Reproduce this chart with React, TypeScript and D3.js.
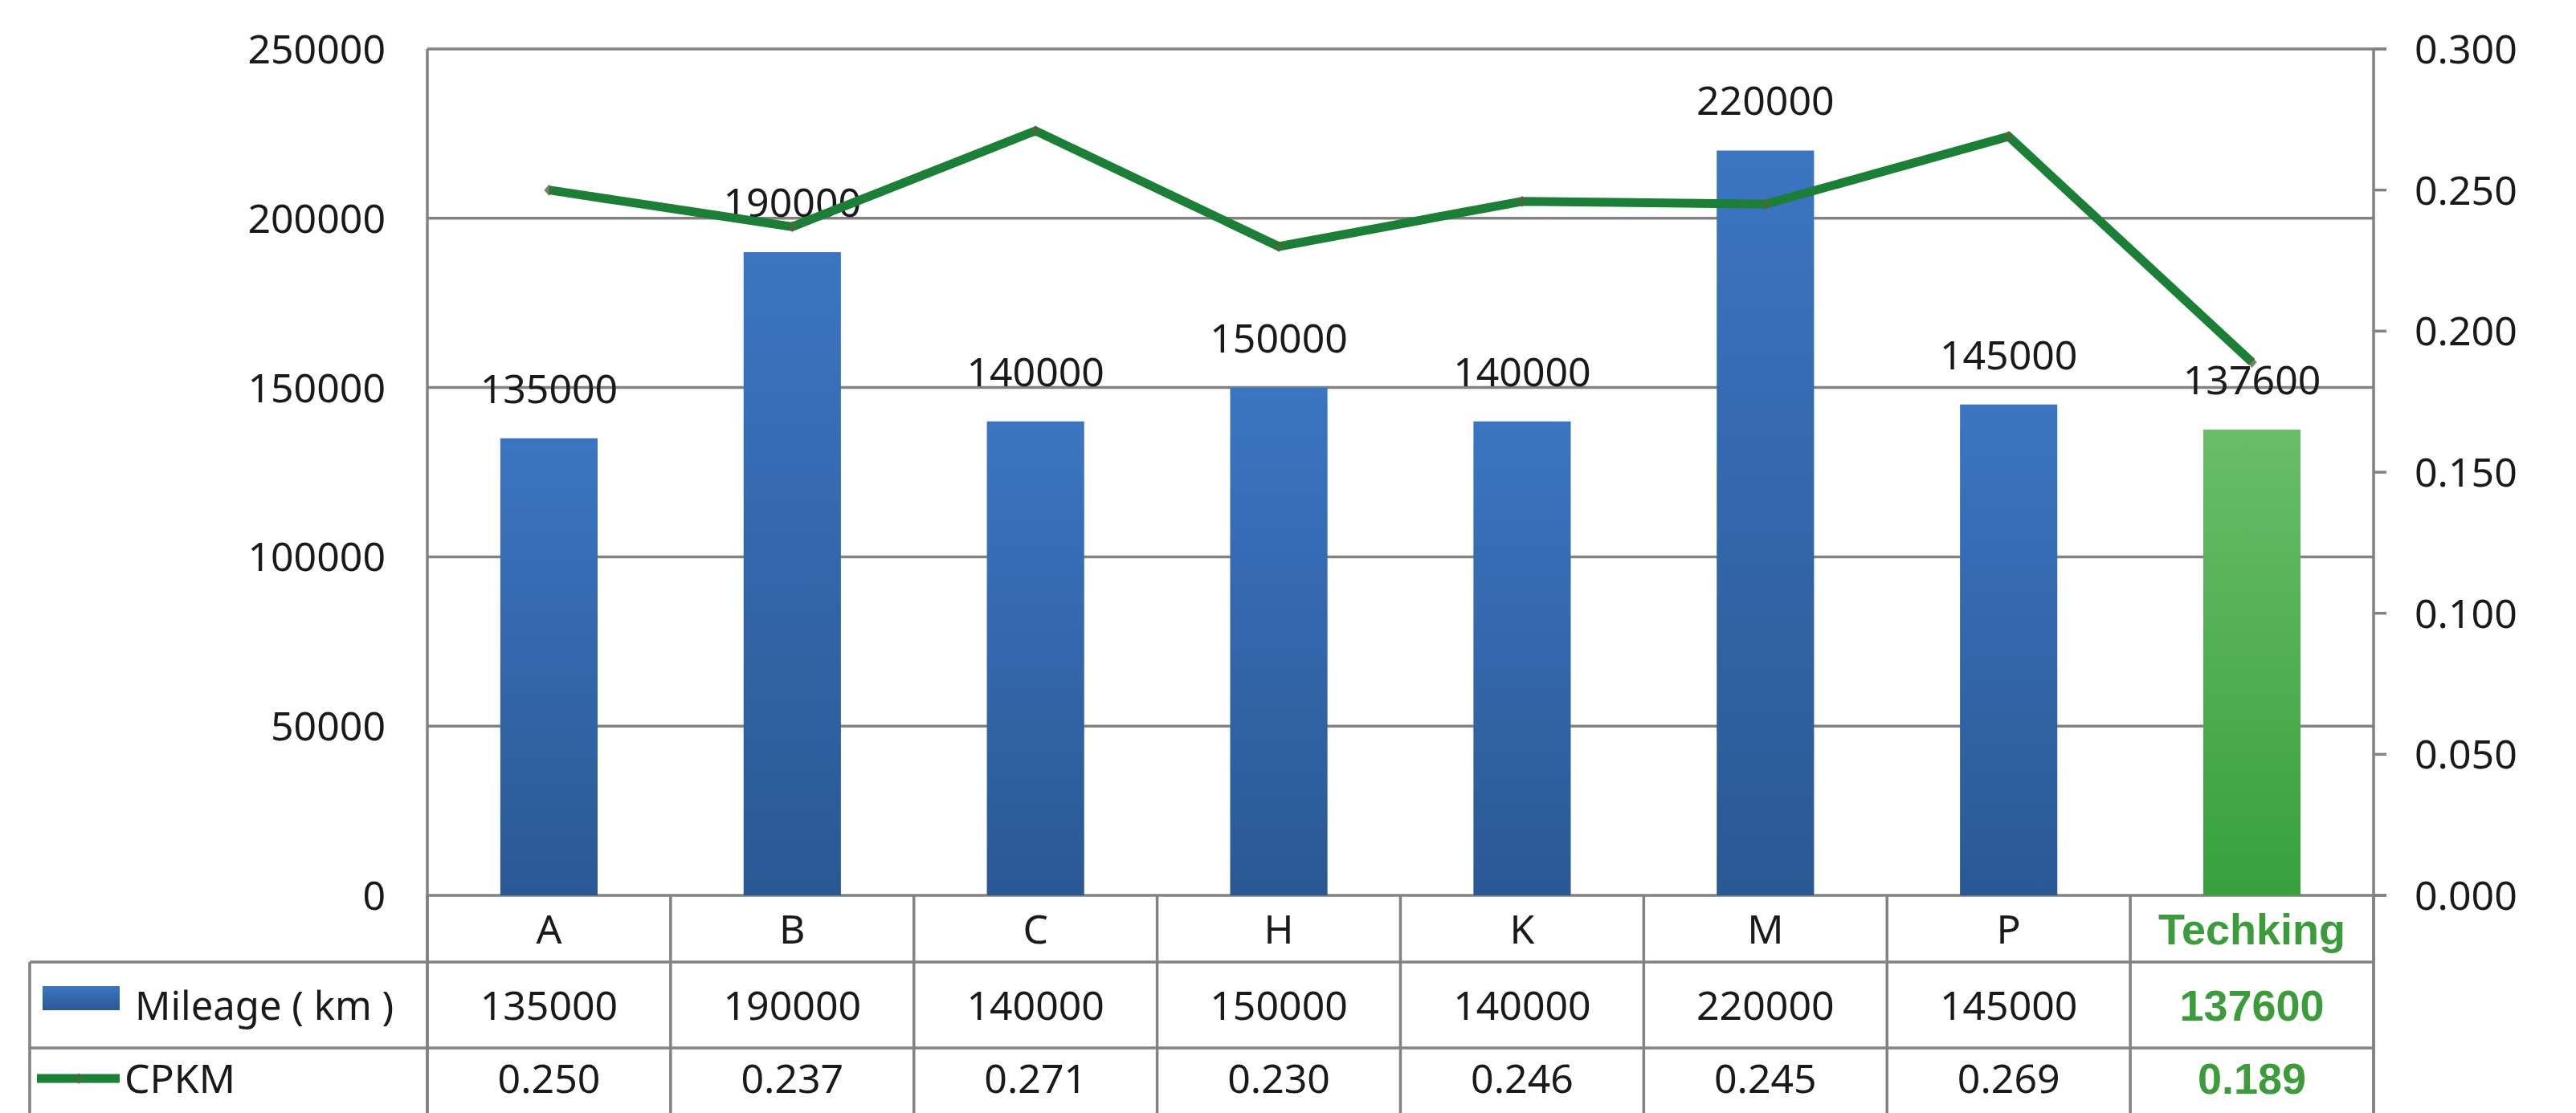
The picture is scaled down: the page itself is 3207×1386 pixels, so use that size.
import React, { useEffect } from "react";
import * as d3 from "d3";

const categories = ["A", "B", "C", "H", "K", "M", "P", "Techking"];
const mileage = [135000, 190000, 140000, 150000, 140000, 220000, 145000, 137600];
const cpkm = [0.25, 0.237, 0.271, 0.23, 0.246, 0.245, 0.269, 0.189];
const leftTicks = [0, 50000, 100000, 150000, 200000, 250000];
const rightTicks = [0, 0.05, 0.1, 0.15, 0.2, 0.25, 0.3];
const highlight = "Techking";

const W = 3207;
const H = 1386;
const plotL = 532;
const plotR = 2955;
const plotT = 61;
const plotB = 1115;
const row1B = 1198;
const row2B = 1305;
const legendL = 37;
const FONT = "'Noto Sans', 'Open Sans', sans-serif";
const BOLD = "'Liberation Sans', Arial, sans-serif";
const GRID = "#828282";
const LINE = "#1b7f37";
const GREENTXT = "#3c9c3c";

export default function App() {
  useEffect(() => {
    document.body.style.margin = "0";
  }, []);

  const x = d3.scaleBand<string>().domain(categories).range([plotL, plotR]).paddingInner(0.6).paddingOuter(0.3);
  const xc = d3.scaleBand<string>().domain(categories).range([plotL, plotR]).padding(0);
  const yL = d3.scaleLinear().domain([0, 250000]).range([plotB, plotT]);
  const yR = d3.scaleLinear().domain([0, 0.3]).range([plotB, plotT]);
  const fmtR = d3.format(".3f");
  const cx = (c: string) => (x(c) as number) + x.bandwidth() / 2;

  const line = d3
    .line<number>()
    .x((_, i) => cx(categories[i]))
    .y((d) => yR(d));

  const colEdges = categories.map((c) => xc(c) as number).concat([plotR]);

  return (
    <svg width={W} height={H} style={{ display: "block", background: "#fff" }}>
      <defs>
        <linearGradient id="blueG" x1="0" y1="0" x2="0" y2="1">
          <stop offset="0" stopColor="#3b75c2" />
          <stop offset="1" stopColor="#2b5893" />
        </linearGradient>
        <linearGradient id="greenG" x1="0" y1="0" x2="0" y2="1">
          <stop offset="0" stopColor="#6abd6a" />
          <stop offset="1" stopColor="#38a03c" />
        </linearGradient>
      </defs>

      {/* gridlines */}
      {leftTicks.map((t) => (
        <line
          key={"g" + t}
          x1={plotL}
          x2={t === 0 || t === 250000 ? plotR + 16 : plotR}
          y1={yL(t)}
          y2={yL(t)}
          stroke={GRID}
          strokeWidth={3.5}
        />
      ))}
      {/* right ticks */}
      {rightTicks.map((t) => (
        <line key={"rt" + t} x1={plotR} x2={plotR + 16} y1={yR(t)} y2={yR(t)} stroke={GRID} strokeWidth={3.5} />
      ))}
      {/* axes */}
      <line x1={plotL} x2={plotL} y1={plotT} y2={H} stroke={GRID} strokeWidth={3.5} />
      <line x1={plotR} x2={plotR} y1={plotT} y2={H} stroke={GRID} strokeWidth={3.5} />

      {/* left tick labels */}
      {leftTicks.map((t) => (
        <text key={"lt" + t} x={480} y={yL(t)} dy="0.36em" textAnchor="end" fontFamily={FONT} fontSize={50} fill="#1a1a1a">
          {t}
        </text>
      ))}
      {/* right tick labels */}
      {rightTicks.map((t) => (
        <text key={"rl" + t} x={3006} y={yR(t)} dy="0.36em" textAnchor="start" fontFamily={FONT} fontSize={50} fill="#1a1a1a">
          {fmtR(t)}
        </text>
      ))}

      {/* bars */}
      {categories.map((c, i) => (
        <rect
          key={"b" + c}
          x={x(c)}
          y={yL(mileage[i])}
          width={x.bandwidth()}
          height={plotB - yL(mileage[i])}
          fill={c === highlight ? "url(#greenG)" : "url(#blueG)"}
        />
      ))}

      {/* data labels */}
      {categories.map((c, i) => (
        <text
          key={"dl" + c}
          x={cx(c)}
          y={yL(mileage[i]) - 62}
          dy="0.36em"
          textAnchor="middle"
          fontFamily={FONT}
          fontSize={50}
          fill="#1a1a1a"
        >
          {mileage[i]}
        </text>
      ))}

      {/* line */}
      <path d={line(cpkm) || ""} fill="none" stroke={LINE} strokeWidth={11} strokeLinejoin="miter" />
      {categories.map((c, i) => (
        <path
          key={"m" + c}
          d={`M${cx(c)},${yR(cpkm[i]) - 7}l6,7l-6,7l-6,-7z`}
          fill="#4a6a3a"
          opacity={0.8}
        />
      ))}

      {/* table */}
      <line x1={legendL} x2={plotR} y1={row1B} y2={row1B} stroke={GRID} strokeWidth={3.5} />
      <line x1={legendL} x2={plotR} y1={row2B} y2={row2B} stroke={GRID} strokeWidth={3.5} />
      <line x1={legendL} x2={legendL} y1={row1B} y2={H} stroke={GRID} strokeWidth={3.5} />
      {colEdges.map((e, i) => (
        <line key={"ce" + i} x1={e} x2={e} y1={plotB} y2={H} stroke={GRID} strokeWidth={3.5} />
      ))}

      {categories.map((c, i) => {
        const hc = c === highlight;
        const mid = (xc(c) as number) + xc.bandwidth() / 2;
        const common = {
          x: mid,
          textAnchor: "middle" as const,
          fontFamily: hc ? BOLD : FONT,
          fontWeight: hc ? 700 : 400,
          fontSize: hc ? 54 : 50,
          fill: hc ? GREENTXT : "#1a1a1a",
          dy: "0.36em",
        };
        return (
          <g key={"t" + c}>
            <text {...common} y={(plotB + row1B) / 2}>
              {c}
            </text>
            <text {...common} y={1252}>
              {mileage[i]}
            </text>
            <text {...common} y={1343}>
              {fmtR(cpkm[i])}
            </text>
          </g>
        );
      })}

      {/* legend keys */}
      <rect x={53} y={1228} width={96} height={30} fill="url(#blueG)" />
      <text x={168} y={1252} dy="0.36em" fontFamily={FONT} fontSize={49} fill="#1a1a1a">
        Mileage ( km )
      </text>
      <line x1={46} x2={149} y1={1343} y2={1343} stroke={LINE} strokeWidth={11} strokeLinecap="butt" />
      <path d={`M98,1336l5,7l-5,7l-5,-7z`} fill="#4a6a3a" opacity={0.8} />
      <text x={155} y={1343} dy="0.36em" fontFamily={FONT} fontSize={50} fill="#1a1a1a">
        CPKM
      </text>
    </svg>
  );
}
